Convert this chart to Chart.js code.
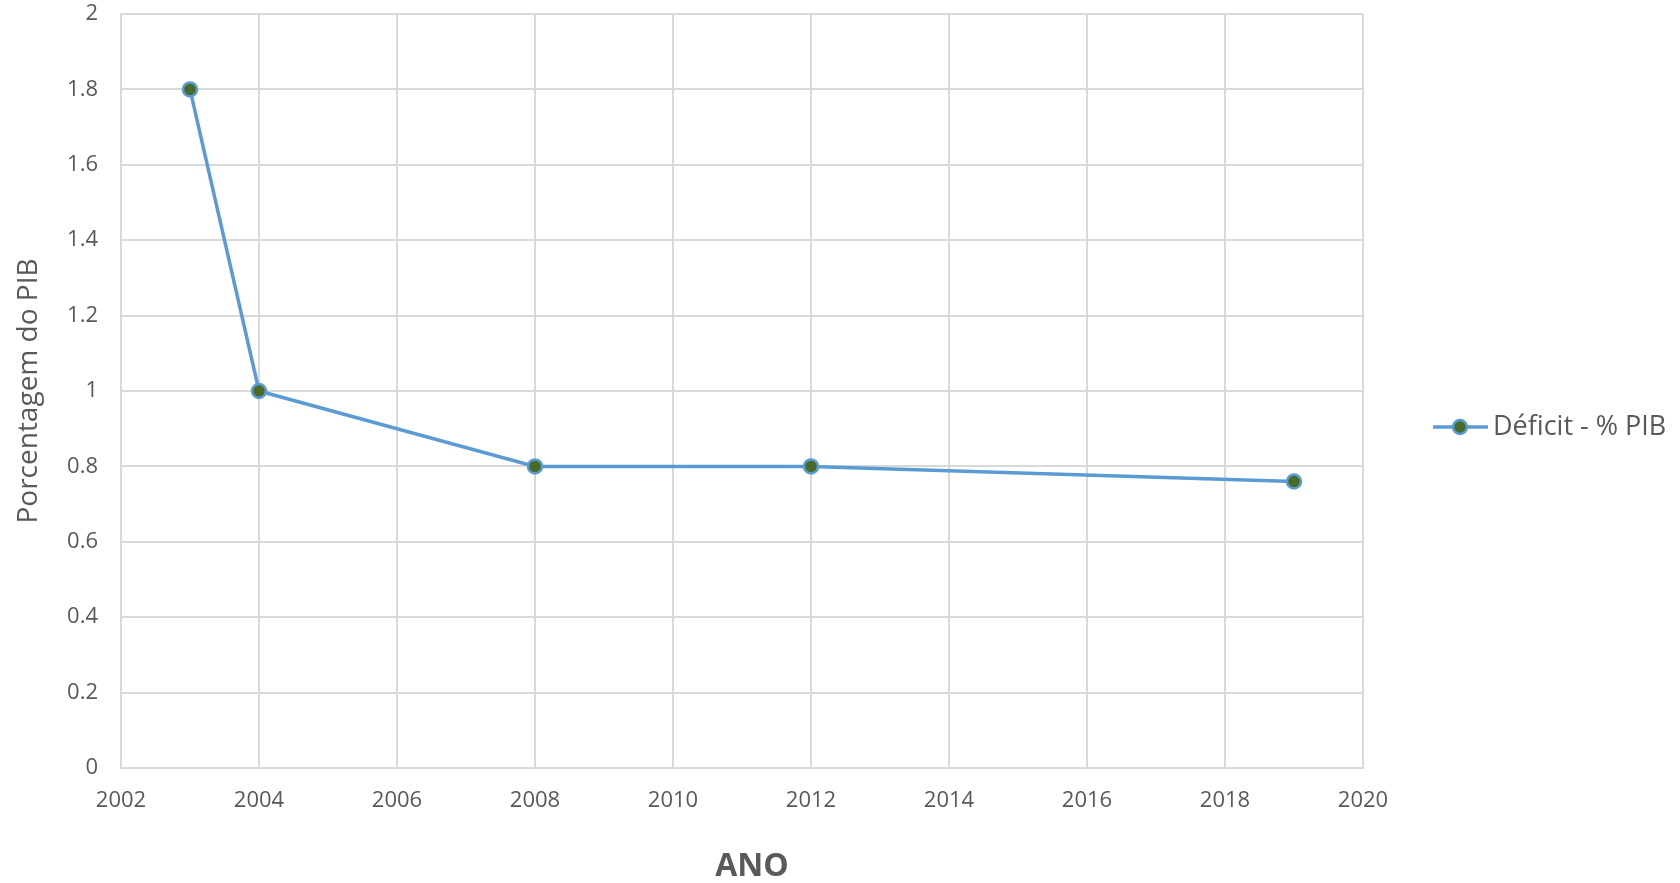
<!DOCTYPE html>
<html>
<head>
<meta charset="utf-8">
<script src="https://cdn.jsdelivr.net/npm/chart.js@4"></script>
<style>
  html, body { margin: 0; padding: 0; background: #ffffff; }
  #wrap { position: relative; width: 1680px; height: 883px; }
</style>
</head>
<body>
<div id="wrap"><canvas id="c" width="1680" height="883"></canvas></div>
<script>
const years = [2003, 2004, 2008, 2012, 2019];
const deficitValues = [1.8, 1.0, 0.8, 0.8, 0.76];
const seriesLabel = 'Déficit - % PIB';
const xTitle = 'ANO';
const yTitle = 'Porcentagem do PIB';

const FONT = "'Open Sans', 'Noto Sans', sans-serif";
const TXT = '#595959';
const GRID = '#d9d9d9';
const LINE = '#5b9bd5';
const MARK = '#4a6b28';

const points = years.map((y, i) => ({ x: y, y: deficitValues[i] }));

const legendPlugin = {
  id: 'customLegend',
  afterDraw(chart) {
    const ctx = chart.ctx;
    const y = 427;
    ctx.save();
    ctx.strokeStyle = LINE;
    ctx.lineWidth = 3.5;
    ctx.beginPath();
    ctx.moveTo(1433, y);
    ctx.lineTo(1488, y);
    ctx.stroke();
    ctx.beginPath();
    ctx.arc(1460, y, 7, 0, Math.PI * 2);
    ctx.fillStyle = MARK;
    ctx.fill();
    ctx.lineWidth = 2.5;
    ctx.strokeStyle = LINE;
    ctx.stroke();
    ctx.fillStyle = TXT;
    ctx.font = "27px " + FONT;
    ctx.textAlign = 'left';
    ctx.textBaseline = 'middle';
    ctx.fillText(seriesLabel, 1493, y);
    // x-axis title
    ctx.font = "bold 32px " + FONT;
    ctx.textAlign = 'center';
    ctx.fillText(xTitle, 752, 867);
    ctx.restore();
  }
};

new Chart(document.getElementById('c'), {
  type: 'line',
  data: {
    datasets: [{
      label: seriesLabel,
      data: points,
      borderColor: LINE,
      borderWidth: 3.5,
      backgroundColor: MARK,
      pointBackgroundColor: MARK,
      pointBorderColor: LINE,
      pointBorderWidth: 2.5,
      pointRadius: 7,
      tension: 0
    }]
  },
  options: {
    responsive: false,
    animation: false,
    devicePixelRatio: 1,
    layout: { padding: { top: 14, right: 317, bottom: 0, left: 0 } },
    plugins: { legend: { display: false }, tooltip: { enabled: false } },
    scales: {
      x: {
        type: 'linear',
        min: 2002, max: 2020,
        afterFit(scale) { scale.height = 115; scale.paddingLeft = 0; scale.paddingRight = 0; },
        ticks: {
          stepSize: 2,
          padding: 20,
          color: TXT,
          font: { family: FONT, size: 22 },
          callback: v => String(v)
        },
        grid: { color: GRID, lineWidth: 2, drawTicks: false },
        border: { color: GRID, width: 2 },
        title: { display: false }
      },
      y: {
        type: 'linear',
        min: 0, max: 2,
        afterFit(scale) { scale.width = 121; scale.paddingTop = 0; scale.paddingBottom = 0; },
        ticks: {
          stepSize: 0.2,
          padding: 23,
          color: TXT,
          font: { family: FONT, size: 22 },
          callback: v => String(Math.round(v * 10) / 10)
        },
        grid: { color: GRID, lineWidth: 2, drawTicks: false },
        border: { color: GRID, width: 2 },
        title: {
          display: true,
          text: yTitle,
          color: TXT,
          font: { family: FONT, size: 28, lineHeight: 1 },
          padding: { top: 15, bottom: 0 }
        }
      }
    }
  },
  plugins: [legendPlugin]
});
</script>
</body>
</html>
